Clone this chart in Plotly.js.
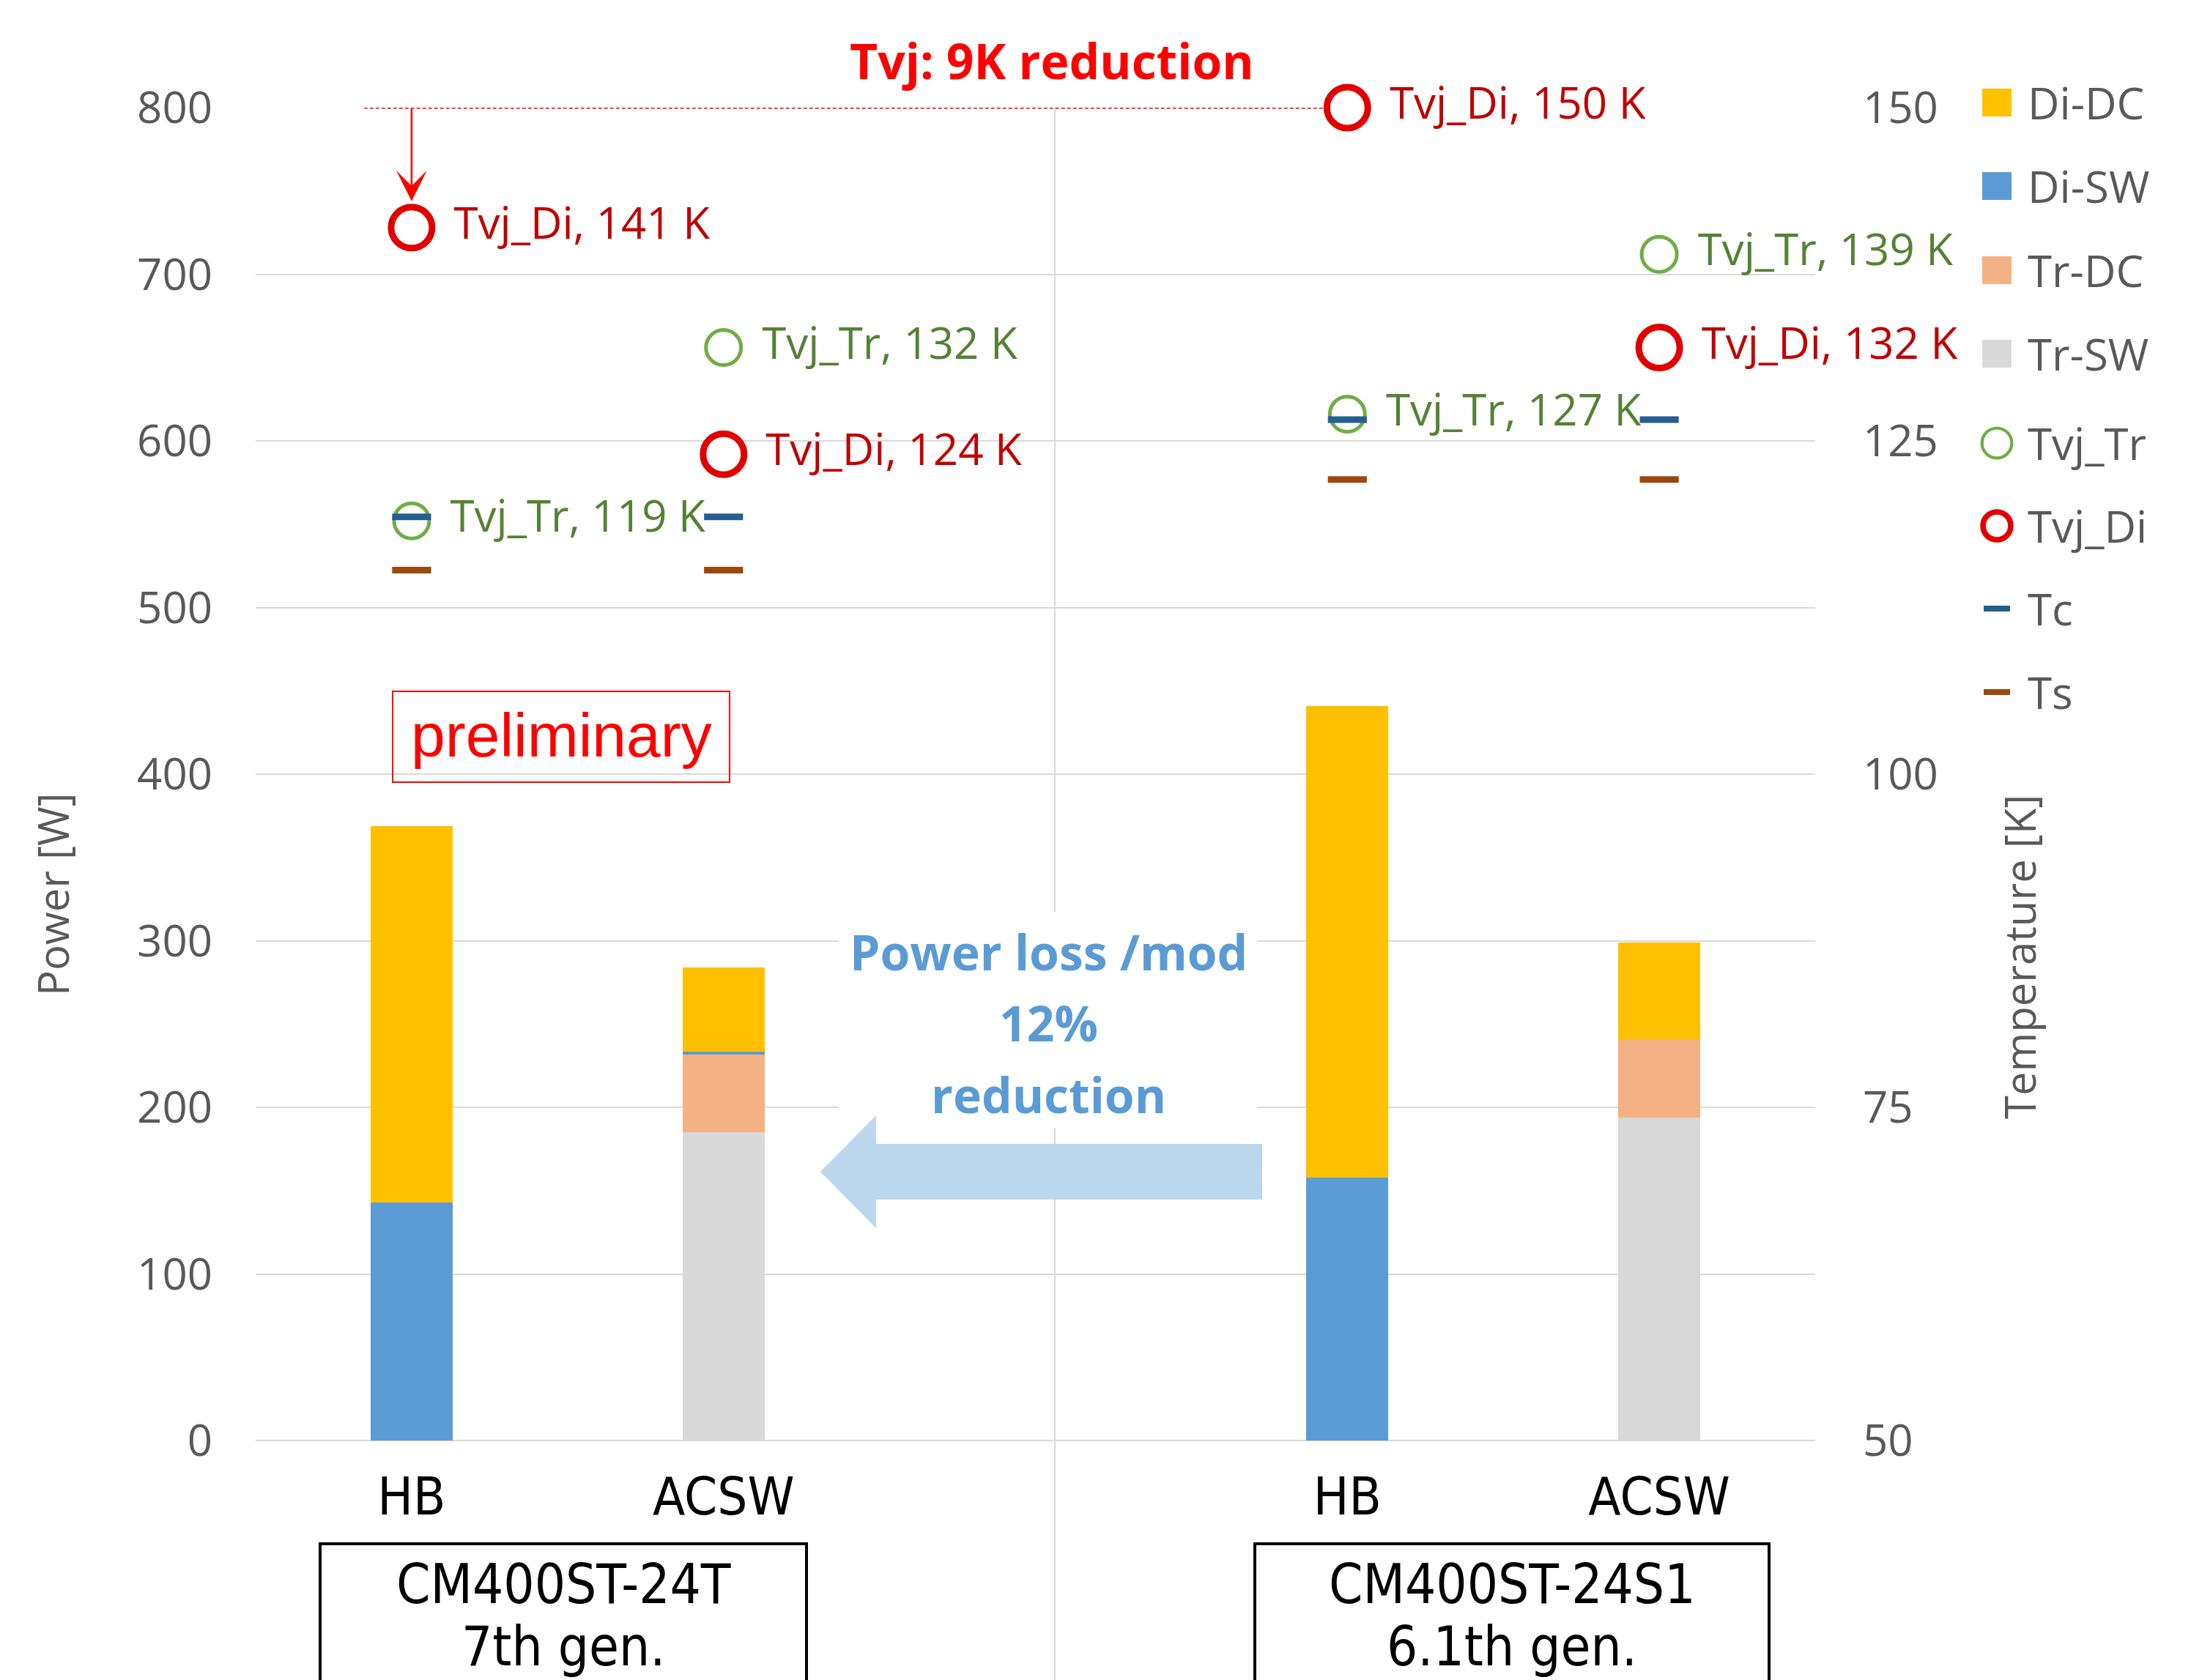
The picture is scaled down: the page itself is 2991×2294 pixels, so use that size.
<!DOCTYPE html>
<html>
<head>
<meta charset="utf-8">
<script src="https://cdn.plot.ly/plotly-3.0.1.min.js"></script>
<style>
  html, body { margin: 0; padding: 0; background: #ffffff; }
  #chart { width: 2991px; height: 2294px; }
</style>
</head>
<body>
<div id="chart"></div>
<script>
// ---------------- data ----------------
const groups = ['CM400ST-24T', 'CM400ST-24T', 'CM400ST-24S1', 'CM400ST-24S1'];
const groupNames = ['CM400ST-24T', 'CM400ST-24S1'];
const generations = ['7th gen.', '6.1th gen.'];
const categories = ['HB', 'ACSW', 'HB', 'ACSW'];

// power losses [W]
const trSW = [0, 185, 0, 194];
const trDC = [0, 46.5, 0, 47];
const diSW = [143, 2, 158, 0];
const diDC = [226, 50.5, 283, 58];

// temperatures [K]
const tvjTr = [119, 132, 127, 139];
const tvjDi = [141, 124, 150, 132];
const tc = [119.3, 119.3, 126.6, 126.6];
const ts = [115.3, 115.3, 122.1, 122.1];

const powerTicks = [0, 100, 200, 300, 400, 500, 600, 700, 800];
const tempTicks = [50, 75, 100, 125, 150];
const legendNames = ['Di-DC', 'Di-SW', 'Tr-DC', 'Tr-SW', 'Tvj_Tr', 'Tvj_Di', 'Tc', 'Ts'];

// ---------------- layout helpers ----------------
const W = 2991, H = 2294;
const PL = 349, PR = 2478, PT = 147, PB = 1967;
const px = X => (X - PL) / (PR - PL);
const py = Y => (PB - Y) / (PB - PT);

const NUM_FONT = "'Open Sans', 'Noto Sans', sans-serif";
const NARROW_FONT = "'Liberation Sans Narrow', 'DejaVu Sans Condensed', 'Arial Narrow', sans-serif";
const GRAY = '#595959';

const style = {
  'Di-DC': { color: '#FFC000' },
  'Di-SW': { color: '#5B9BD5' },
  'Tr-DC': { color: '#F4B183' },
  'Tr-SW': { color: '#D9D9D9' },
  'Tvj_Tr': { color: '#70AD47', text: '#548235', size: 48, lw: 5 },
  'Tvj_Di': { color: '#E00000', text: '#C00000', size: 56, lw: 9 },
  'Tc': { color: '#255E91' },
  'Ts': { color: '#9E480E' }
};

const xKeys = categories.map((c, i) => groups[i] + ' | ' + c);
const categoryArray = [xKeys[0], xKeys[1], 'gap', xKeys[2], xKeys[3]];
const LEAD = '\u00A0\u200A';

// ---------------- traces ----------------
const traces = [];
[['Tr-SW', trSW], ['Tr-DC', trDC], ['Di-SW', diSW], ['Di-DC', diDC]].forEach(([name, vals]) => {
  traces.push({
    type: 'bar', name: name, x: xKeys, y: vals, width: 0.263,
    marker: { color: style[name].color, line: { width: 0 } },
    showlegend: false, hoverinfo: 'name+y'
  });
});

[['Tvj_Tr', tvjTr], ['Tvj_Di', tvjDi]].forEach(([name, vals]) => {
  const s = style[name];
  traces.push({
    type: 'scatter', mode: 'markers+text', name: name, x: xKeys, y: vals, yaxis: 'y2',
    text: vals.map(v => LEAD + name + ', ' + v + ' K'),
    textposition: 'middle right',
    textfont: { family: NUM_FONT, size: 60, color: s.text },
    marker: { symbol: 'circle', size: s.size, color: '#FFFFFF', line: { color: s.color, width: s.lw } },
    cliponaxis: false, showlegend: false
  });
});

[['Tc', tc], ['Ts', ts]].forEach(([name, vals]) => {
  traces.push({
    type: 'scatter', mode: 'markers', name: name, x: xKeys, y: vals, yaxis: 'y2',
    marker: { symbol: 'line-ew', size: 38, line: { color: style[name].color, width: 9 } },
    cliponaxis: false, showlegend: false
  });
});

// ---------------- shapes & annotations ----------------
const shapes = [];
const annotations = [];

// vertical divider between the two module groups
shapes.push({ type: 'line', xref: 'paper', yref: 'paper', layer: 'below',
  x0: px(1440), x1: px(1440), y0: py(H + 10), y1: 1,
  line: { color: '#D9D9D9', width: 2 } });

// red dotted reference line at the 6.1th gen. diode temperature (ends at the marker ring)
shapes.push({ type: 'line', xref: 'x', yref: 'y2', layer: 'above',
  x0: -0.153, x1: 2.93, y0: tvjDi[2], y1: tvjDi[2],
  line: { color: '#FF0000', width: 3, dash: '5px,3px' } });

// arrow from 150 K level down to 141 K marker
annotations.push({ xref: 'x', yref: 'y2', axref: 'x', ayref: 'y2',
  x: 0, y: tvjDi[0], ax: 0, ay: tvjDi[2], text: '', showarrow: true,
  arrowhead: 3, arrowsize: 2.8, arrowwidth: 2.5, arrowcolor: '#FF0000', standoff: 36 });

annotations.push({ xref: 'paper', yref: 'paper', x: px(1436), y: py(82),
  text: '<b>Tvj: 9K reduction</b>', showarrow: false, xanchor: 'center', yanchor: 'middle',
  font: { family: NUM_FONT, size: 66, color: '#FF0000' } });

// preliminary box
shapes.push({ type: 'rect', xref: 'paper', yref: 'paper', layer: 'above',
  x0: px(536), x1: px(996), y0: py(1068), y1: py(944),
  line: { color: '#FF0000', width: 2 }, fillcolor: 'rgba(0,0,0,0)' });
annotations.push({ xref: 'paper', yref: 'paper', x: px(766), y: py(1004),
  text: 'preliminary', showarrow: false, xanchor: 'center', yanchor: 'middle',
  font: { family: "'Liberation Sans', Arial, sans-serif", size: 84, color: '#FF0000' } });

// power loss text block (white background) and block arrow
shapes.push({ type: 'rect', xref: 'paper', yref: 'paper', layer: 'above',
  x0: px(1145), x1: px(1716), y0: py(1540), y1: py(1245),
  line: { width: 0 }, fillcolor: '#FFFFFF' });
const arrowPts = [[1120, 1600], [1196, 1523], [1196, 1562], [1723, 1562], [1723, 1638], [1196, 1638], [1196, 1677]];
shapes.push({ type: 'path', xref: 'paper', yref: 'paper', layer: 'above',
  path: 'M' + arrowPts.map(p => px(p[0]).toFixed(5) + ',' + py(p[1]).toFixed(5)).join('L') + 'Z',
  fillcolor: '#BDD7EE', line: { width: 0 } });
[['Power loss /mod', 1299], ['12%', 1396], ['reduction', 1494]].forEach(([t, y]) => {
  annotations.push({ xref: 'paper', yref: 'paper', x: px(1431), y: py(y),
    text: '<b>' + t + '</b>', showarrow: false, xanchor: 'center', yanchor: 'middle',
    font: { family: NUM_FONT, size: 66, color: '#5B9BD5' } });
});

// axis titles
annotations.push({ xref: 'paper', yref: 'paper', x: px(71), y: py(1221), textangle: -90,
  text: 'Power [W]', showarrow: false, xanchor: 'center', yanchor: 'middle',
  font: { family: NUM_FONT, size: 58, color: GRAY } });
annotations.push({ xref: 'paper', yref: 'paper', x: px(2756), y: py(1307), textangle: -90,
  text: 'Temperature [K]', showarrow: false, xanchor: 'center', yanchor: 'middle',
  font: { family: NUM_FONT, size: 58, color: GRAY } });

// group boxes and labels
const groupBoxes = [[437, 1101], [1713, 2415]];
const groupCenters = [769, 2064];
groupNames.forEach((g, i) => {
  shapes.push({ type: 'rect', xref: 'paper', yref: 'paper', layer: 'above',
    x0: px(groupBoxes[i][0]), x1: px(groupBoxes[i][1]), y0: py(H + 40), y1: py(2108),
    line: { color: '#000000', width: 4 }, fillcolor: 'rgba(0,0,0,0)' });
  annotations.push({ xref: 'paper', yref: 'paper', x: px(groupCenters[i]), y: py(2163),
    text: g, showarrow: false, xanchor: 'center', yanchor: 'middle',
    font: { family: NARROW_FONT, size: 74, color: '#000000' } });
  annotations.push({ xref: 'paper', yref: 'paper', x: px(groupCenters[i]), y: py(H - 1),
    text: generations[i], showarrow: false, xanchor: 'center', yanchor: 'bottom',
    font: { family: NARROW_FONT, size: 74, color: '#000000' } });
});

// custom legend
const legendY = [140, 254, 369, 483, 605, 718, 831, 945];
legendNames.forEach((name, i) => {
  const cy = py(legendY[i]);
  const s = style[name];
  const base = { xref: 'paper', yref: 'paper', xsizemode: 'pixel', ysizemode: 'pixel',
    xanchor: px(2726), yanchor: cy, layer: 'above' };
  if (i < 4) {
    shapes.push(Object.assign({}, base, { type: 'rect', x0: -20, x1: 20, y0: -19, y1: 19,
      fillcolor: s.color, line: { width: 0 } }));
  } else if (i < 6) {
    const r = 22 - s.lw / 3;
    shapes.push(Object.assign({}, base, { type: 'circle', x0: -r, x1: r, y0: -r, y1: r,
      fillcolor: '#FFFFFF', line: { color: s.color, width: s.lw * 0.85 } }));
  } else {
    shapes.push(Object.assign({}, base, { type: 'line', x0: -18, x1: 18, y0: 0, y1: 0,
      line: { color: s.color, width: 8 } }));
  }
  annotations.push({ xref: 'paper', yref: 'paper', x: px(2766), y: cy, text: name,
    showarrow: false, xanchor: 'left', yanchor: 'middle',
    font: { family: NUM_FONT, size: 60, color: GRAY } });
});

// ---------------- layout ----------------
const layout = {
  width: W, height: H,
  margin: { l: PL, r: W - PR, t: PT, b: H - PB, pad: 0 },
  paper_bgcolor: '#FFFFFF', plot_bgcolor: '#FFFFFF',
  font: { family: NUM_FONT, color: GRAY, size: 60 },
  barmode: 'stack',
  showlegend: false,
  xaxis: {
    type: 'category', categoryorder: 'array', categoryarray: categoryArray,
    range: [-0.5, 4.5], tickmode: 'array', tickvals: xKeys, ticktext: categories,
    tickfont: { family: NARROW_FONT, size: 72, color: '#000000' },
    showgrid: false, zeroline: false, showline: false, ticks: '', ticklabelstandoff: 28,
    fixedrange: true
  },
  yaxis: {
    range: [0, 800], tickmode: 'array', tickvals: powerTicks,
    tickfont: { family: NUM_FONT, size: 60, color: GRAY },
    showgrid: true, gridcolor: '#D9D9D9', gridwidth: 2,
    zeroline: true, zerolinecolor: '#D9D9D9', zerolinewidth: 2,
    showline: false, ticks: '', ticklabelstandoff: 58
  },
  yaxis2: {
    overlaying: 'y', side: 'right', range: [50, 150], tickmode: 'array', tickvals: tempTicks,
    tickfont: { family: NUM_FONT, size: 60, color: GRAY },
    showgrid: false, zeroline: false, showline: false, ticks: '', ticklabelstandoff: 64
  },
  shapes: shapes,
  annotations: annotations
};

Plotly.newPlot('chart', traces, layout, { staticPlot: true, displayModeBar: false });
</script>
</body>
</html>
